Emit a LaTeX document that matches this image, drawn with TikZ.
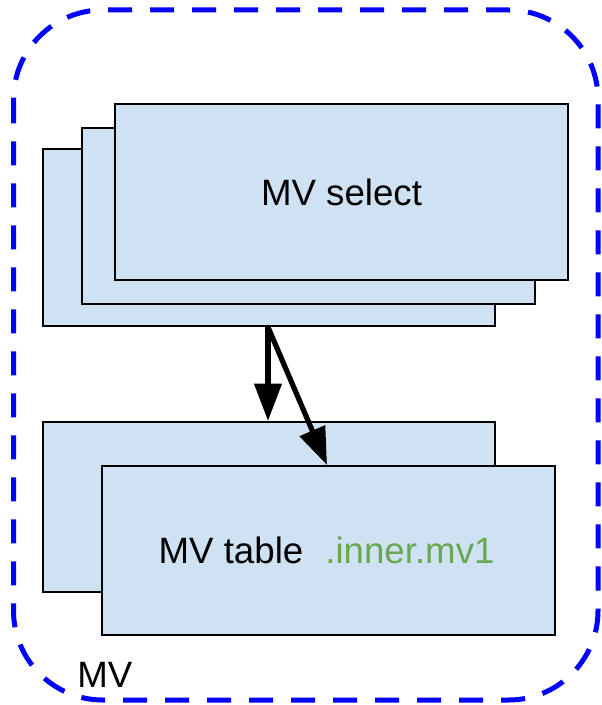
\documentclass[tikz,border=0pt]{standalone}
\usepackage{fontspec}
\setmainfont{Liberation Sans}
\usetikzlibrary{arrows.meta,calc}
\definecolor{boxfill}{HTML}{CFE2F3}
\definecolor{mvgreen}{HTML}{6AA84F}
\begin{document}
\begin{tikzpicture}[x=0.75pt,y=-0.75pt,
  box/.style={draw=black,fill=boxfill,line width=1.6pt,inner sep=0pt,anchor=north west},
  arr/.style={line width=3.9pt,-{Triangle[width=20pt,length=28pt]}},
  txt/.style={font=\fontsize{27.5}{33}\selectfont}]
\useasboundingbox (0,0) rectangle (601,705);
\draw[blue,line width=3.75pt,dash pattern=on 18pt off 13.5pt,rounded corners=67pt]
  (13.5,10) rectangle (598,700);
% MV select stack
\node[box,minimum width=452*0.75pt,minimum height=177*0.75pt] (s1) at (42,148) {};
\node[box,minimum width=453*0.75pt,minimum height=176*0.75pt] (s2) at (81,127) {};
\node[box,minimum width=453*0.75pt,minimum height=176*0.75pt,txt] (s3) at (114,103) {MV select};
% MV table stack
\node[box,minimum width=452*0.75pt,minimum height=170*0.75pt] (t1) at (42,421) {};
\node[box,minimum width=453*0.75pt,minimum height=169*0.75pt] (t2) at (101,465) {};
\node[txt,anchor=center] (tl) at ($(t2.center)+(-2,0)$) {MV table\hspace{0.6em}\textcolor{mvgreen}{.inner.mv1}};
% arrows
\coordinate (a0) at ($(s1.south west)+(226,0)$);
\draw[arr] (a0) -- ($(t1.north west)+(226,0)$);
\draw[arr] (a0) -- ($(t2.north west)+(226,0)$);
% label
\node[txt,anchor=base west,inner sep=0pt] (mv) at (77,687) {MV};
\end{tikzpicture}
\end{document}
